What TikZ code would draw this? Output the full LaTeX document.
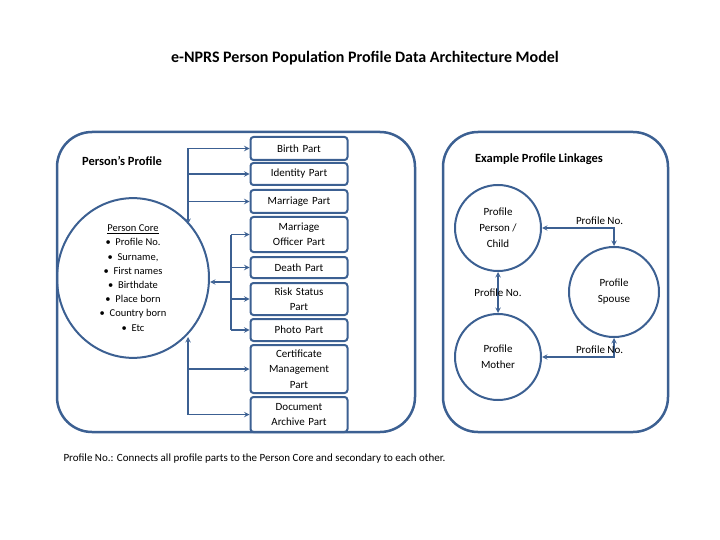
\documentclass[tikz,border=0pt]{standalone}
\usepackage{fontspec}
\setmainfont{Carlito}
\usetikzlibrary{shapes.geometric,arrows,positioning}
\definecolor{nprsblue}{RGB}{60,96,146}
\tikzstyle{arrow} = [line width=1.4pt,draw=nprsblue,<->,>=stealth]
\begin{document}
\begin{tikzpicture}[x=1pt,y=-1pt,>=stealth,
    part/.style={shape=rectangle,draw=nprsblue,line width=2pt,rounded corners=3pt,minimum width=97pt,text width=92pt,align=center,font=\fontsize{11}{15.5}\selectfont,inner sep=1pt},
    disc/.style={shape=circle,draw=nprsblue,line width=2pt,minimum size=86pt,align=center,font=\fontsize{11}{16}\selectfont},
    link/.style={line width=1.4pt,draw=nprsblue},]
    \useasboundingbox (0,0) rectangle (720,540);
    % frames and titles
    \node (title) at (365,58) {\fontsize{16}{18}\selectfont\bfseries e-NPRS Person Population Profile Data Architecture Model};
    \draw[nprsblue,line width=2.5pt,rounded corners=35pt] (57,132) rectangle (415,432);
    \draw[nprsblue,line width=2.5pt,rounded corners=35pt] (443,132) rectangle (668,432);
    \node (left) at (122,161) {\fontsize{12.5}{14}\selectfont\bfseries Person’s Profile};
    \node (right) at (539,159) {\fontsize{12.5}{14}\selectfont\bfseries Example Profile Linkages};
    % person core
    \node (core)[shape=ellipse,draw=nprsblue,line width=2pt,minimum width=152pt,minimum height=120pt,align=center,font=\fontsize{10.5}{14.2}\selectfont] at (133,278)
        {\underline{Person Core}\\ \textbullet\ \ Profile No.\\ \textbullet\ \ Surname,\\ \textbullet\ \ First names\\ \textbullet\ \ Birthdate\\ \textbullet\ \ Place born\\ \textbullet\ \ Country born\\ \textbullet\ \ Etc};
    % parts
    \node (birth)[part,minimum height=23pt] at (299,148.5) {Birth Part};
    \node (ident)[part,minimum height=22pt] at (299,174) {Identity Part};
    \node (marr)[part,minimum height=23pt] at (299,201.5) {Marriage Part};
    \node (off)[part,minimum height=35pt] at (299,234.5) {Marriage\\Officer Part};
    \node (death)[part,minimum height=21pt] at (299,267.5) {Death Part};
    \node (risk)[part,minimum height=32pt] at (299,299) {Risk Status\\Part};
    \node (photo)[part,minimum height=22pt] at (299,330) {Photo Part};
    \node (cert)[part,minimum height=48pt] at (299,369) {Certificate\\Management\\Part};
    \node (doc)[part,minimum height=35pt] at (299,414.5) {Document\\Archive Part};
    % connect the parts
    \coordinate (top) at (188,148.5);
    \coordinate (mid) at (231,282);
    \coordinate (bot) at (188,414.5);
    \draw[link,->] (top) -- (188,224);
    \foreach \p in {birth,ident,marr} \draw[link,->] (top |- \p.west) -- (\p.west);
    \draw[link] (231,234.5) -- (231,330);
    \draw[link,->] (mid) -- (core.east |- mid);
    \foreach \p in {off,death,risk,photo} \draw[link,->] (mid |- \p.west) -- (\p.west);
    \draw[link,->] (bot) -- (188,337);
    \foreach \p in {cert,doc} \draw[link,->] (bot |- \p.west) -- (\p.west);
    % linkages
    \node (child)[disc] at (498,228) {Profile\\Person /\\Child};
    \node (mother)[disc] at (498,357) {Profile\\Mother};
    \node (spouse)[disc,minimum size=90pt] at (614,292) {Profile\\Spouse};
    \draw[arrow] (child.east) -| node[pos=0.4,above=-1pt,font=\fontsize{11}{12}\selectfont] {Profile No.} (spouse.north);
    \draw[arrow] (mother.east) -| node[pos=0.4,above=-1pt,font=\fontsize{11}{12}\selectfont] {Profile No.} (spouse.south);
    \draw[arrow] (child.south) -- node[font=\fontsize{11}{12}\selectfont] {Profile No.} (mother.north);
    \node (note)[anchor=west,font=\fontsize{11}{12}\selectfont] at (60,459) {Profile No.: Connects all profile parts to the Person Core and secondary to each other.};
\end{tikzpicture}
\end{document}
